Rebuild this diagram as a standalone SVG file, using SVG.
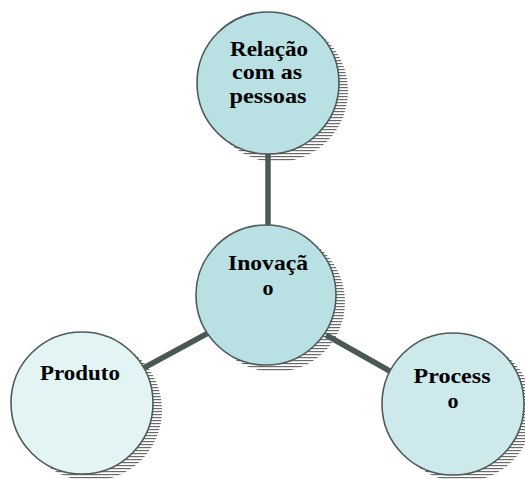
<svg xmlns="http://www.w3.org/2000/svg" width="525" height="479" viewBox="0 0 525 479">
<defs>
<pattern id="hatch" patternUnits="userSpaceOnUse" width="6" height="3">
<rect x="0" y="0" width="6" height="1.2" fill="#6a6a6a"/>
</pattern>
<style>
.node{stroke:#4e5a5a;stroke-width:1.6}
.shadow{fill:url(#hatch);stroke:none}
.conn{stroke:#4a5858;stroke-width:5.5;stroke-linecap:butt;fill:none}
.lbl{font-family:"Liberation Serif","Times New Roman",serif;font-weight:bold;font-size:22px;fill:#000;text-anchor:middle}
</style>
</defs>
<rect width="525" height="479" fill="#fff"/>
<g id="shadows">
<circle class="shadow" cx="277" cy="91" r="71"/>
<circle class="shadow" cx="275" cy="302" r="70"/>
<circle class="shadow" cx="91" cy="410" r="71"/>
<circle class="shadow" cx="462" cy="411" r="71"/>
</g>
<g id="connectors">
<line class="conn" x1="268" y1="150" x2="268" y2="230"/>
<line class="conn" x1="140" y1="370" x2="210" y2="332"/>
<line class="conn" x1="326" y1="335" x2="395" y2="374"/>
</g>
<g id="node-relacao">
<circle class="node" cx="268" cy="83" r="71" fill="#b9e0e3"/>
<text class="lbl" x="269" y="56" textLength="78" lengthAdjust="spacingAndGlyphs">Relação</text>
<text class="lbl" x="267" y="79" textLength="70" lengthAdjust="spacingAndGlyphs">com as</text>
<text class="lbl" x="268" y="103" textLength="77" lengthAdjust="spacingAndGlyphs">pessoas</text>
</g>
<g id="node-inovacao">
<circle class="node" cx="266" cy="295" r="70" fill="#b9e0e3"/>
<text class="lbl" x="268" y="270" textLength="80" lengthAdjust="spacingAndGlyphs">Inovaçã</text>
<text class="lbl" x="268" y="295">o</text>
</g>
<g id="node-produto">
<circle class="node" cx="82" cy="403" r="71" fill="#e3f4f5"/>
<text class="lbl" x="80" y="380" textLength="80" lengthAdjust="spacingAndGlyphs">Produto</text>
</g>
<g id="node-processo">
<circle class="node" cx="453" cy="404" r="71" fill="#cde9eb"/>
<text class="lbl" x="452" y="383" textLength="77" lengthAdjust="spacingAndGlyphs">Process</text>
<text class="lbl" x="453" y="408">o</text>
</g>
</svg>
